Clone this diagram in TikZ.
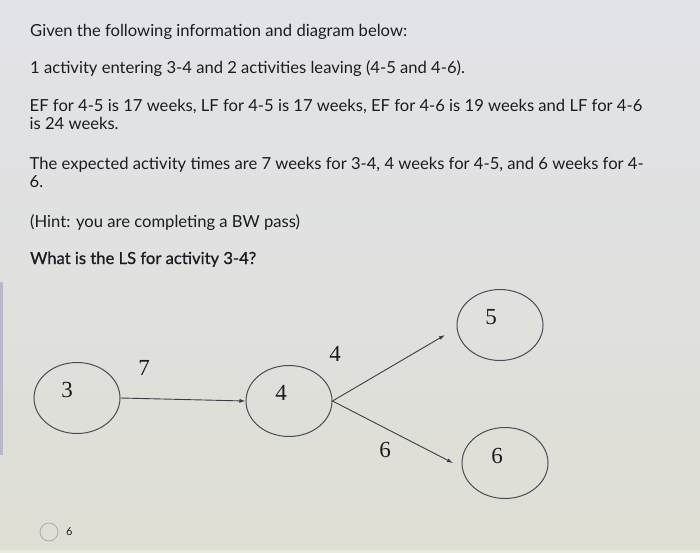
\documentclass[tikz,border=0pt]{standalone}
\usepackage{fontspec}
\setmainfont{Lato}
\newfontfamily\latosemi[FakeBold=0.9]{Lato}
\newfontfamily\diagfont{Liberation Serif}
\usetikzlibrary{arrows.meta,shapes.geometric}
\definecolor{bgtop}{RGB}{226,227,233}
\definecolor{bgbot}{RGB}{222,222,212}
\definecolor{txt}{RGB}{28,28,32}
\definecolor{edge}{RGB}{60,60,70}
\definecolor{ring}{RGB}{75,75,88}
\definecolor{stripe}{RGB}{184,184,204}
\begin{document}
\begin{tikzpicture}[x=1pt,y=-1pt,
  qline/.style={anchor=base west,inner sep=0pt,text=txt,text height=12pt,text depth=3pt,font=\fontsize{16.6}{20}\selectfont},
  event/.style={ellipse,draw=ring,line width=1pt,minimum width=86pt,minimum height=71pt,inner sep=0pt},
  evlabel/.style={text=txt,font=\diagfont\fontsize{23}{25}\selectfont,inner sep=0pt},
  act/.style={draw=edge,line width=0.9pt,-{Latex[length=6pt,width=4pt]}},
  durlabel/.style={text=txt,font=\diagfont\fontsize{23}{25}\selectfont,inner sep=0pt}]
\useasboundingbox (0,0) rectangle (700,553);
\shade[top color=bgtop,bottom color=bgbot] (0,0) rectangle (700,553);
\fill[white,opacity=0.35] (0,550) rectangle (700,553);
\fill[stripe] (0,282) rectangle (3,455);
% question text
\node[qline] (l1) at (30,37) {Given the following information and diagram below:};
\node[qline] (l2) at (30,74) {1 activity entering 3-4 and 2 activities leaving (4-5 and 4-6).};
\node[qline] (l3) at (29.5,112) {EF for 4-5 is 17 weeks, LF for 4-5 is 17 weeks, EF for 4-6 is 19 weeks and LF for 4-6};
\node[qline] (l4) at (29.5,130) {is 24 weeks.};
\node[qline] (l5) at (29.5,170) {The expected activity times are 7 weeks for 3-4, 4 weeks for 4-5, and 6 weeks for 4-};
\node[qline] (l6) at (29.5,188) {6.};
\node[qline] (l7) at (30,227.5) {(Hint: you are completing a BW pass)};
\node[qline,font=\latosemi\fontsize{16.6}{20}\selectfont] (l8) at (30,264) {What is the LS for activity 3-4?};
% events
\node[event] (e3) at (77,398) {};
\node[event] (e4) at (289,401) {};
\node[event] (e5) at (500,325) {};
\node[event] (e6) at (505,463) {};
\node[evlabel] (t3) at (67,390) {3};
\node[evlabel] (t4) at (281,393) {4};
\node[evlabel] (t5) at (491,317) {5};
\node[evlabel] (t6) at (497,456) {6};
% activities
\coordinate (a5) at (445,335);
\coordinate (a6) at (453,463);
\draw[act] (e3.east) -- (e4.west);
\draw[act] (e4.east) -- (a5);
\draw[act] (e4.east) -- (a6);
\node[durlabel] (d34) at (144,368) {7};
\node[durlabel] (d45) at (335,354) {4};
\node[durlabel] (d46) at (385,450) {6};
% answer option
\node[circle,draw=black!35,line width=0.7pt,minimum size=18pt,inner sep=0pt] (radio) at (49,532) {};
\node[anchor=west,inner sep=0pt,text=txt,font=\fontsize{11}{12}\selectfont] (opt) at (66,532) {6};
\end{tikzpicture}
\end{document}
